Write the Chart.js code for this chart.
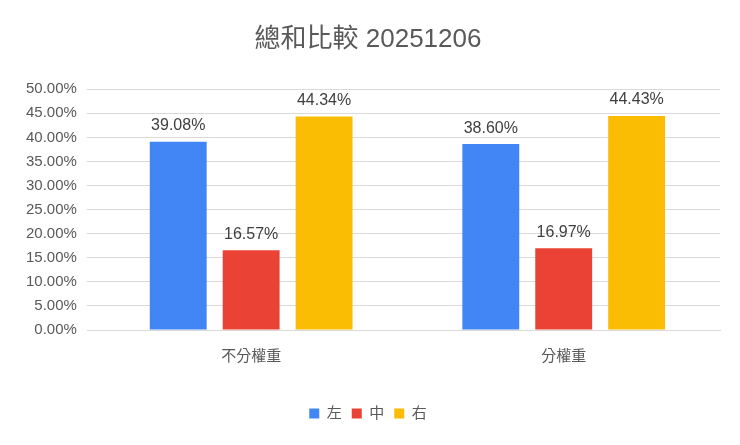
<!DOCTYPE html>
<html><head><meta charset="utf-8">
<script src="https://cdn.jsdelivr.net/npm/chart.js@4"></script>
<style>body{margin:0;background:#fff}#wrap{width:740px;height:445px}</style>
</head><body><div id="wrap"><canvas id="c"></canvas></div>
<script>
const categories = ["不分權重", "分權重"];
const seriesNames = ["左", "中", "右"];
const leftVals = [39.08, 38.60];
const midVals = [16.57, 16.97];
const rightVals = [44.34, 44.43];
const colors = ["#4285F4", "#EA4335", "#FBBC04"];

const font = "'Liberation Sans', 'Noto Sans CJK TC', sans-serif";

// 柱上數值標籤
const labelPlugin = {
  id: "barLabels",
  afterDatasetsDraw(chart) {
    const ctx = chart.ctx;
    ctx.save();
    ctx.font = "16px " + font;
    ctx.fillStyle = "#404040";
    ctx.textAlign = "center";
    ctx.textBaseline = "bottom";
    chart.data.datasets.forEach((ds, i) => {
      chart.getDatasetMeta(i).data.forEach((bar, j) => {
        ctx.fillText(ds.data[j].toFixed(2) + "%", bar.x, bar.y - 8);
      });
    });
    ctx.restore();
  }
};

new Chart(document.getElementById("c"), {
  type: "bar",
  data: {
    labels: categories,
    datasets: [leftVals, midVals, rightVals].map((d, i) => ({
      label: seriesNames[i], data: d, backgroundColor: colors[i],
      barPercentage: 0.78, categoryPercentage: 0.7
    }))
  },
  options: {
    responsive: true, maintainAspectRatio: false, animation: false,
    layout: { padding: { left: 16, right: 20, top: 14, bottom: 14 } },
    plugins: {
      title: { display: true, text: "總和比較 20251206", color: "#595959",
        font: { family: font, size: 26, weight: "normal" }, padding: { top: 10, bottom: 34 } },
      legend: { position: "bottom", labels: { boxWidth: 10, boxHeight: 10, color: "#595959",
        padding: 10, font: { family: font, size: 15 } } },
      tooltip: { enabled: false }
    },
    scales: {
      x: { grid: { display: false }, border: { color: "#d9d9d9" },
        ticks: { color: "#595959", padding: 10, font: { family: font, size: 15 } },
        afterFit: s => { s.height += 20; } },
      y: { min: 0, max: 50, grid: { color: "#d9d9d9" }, border: { display: false },
        ticks: { stepSize: 5, color: "#595959", padding: 10, font: { family: font, size: 15 },
          callback: v => v.toFixed(2) + "%" } }
    }
  },
  plugins: [labelPlugin]
});
</script></body></html>
